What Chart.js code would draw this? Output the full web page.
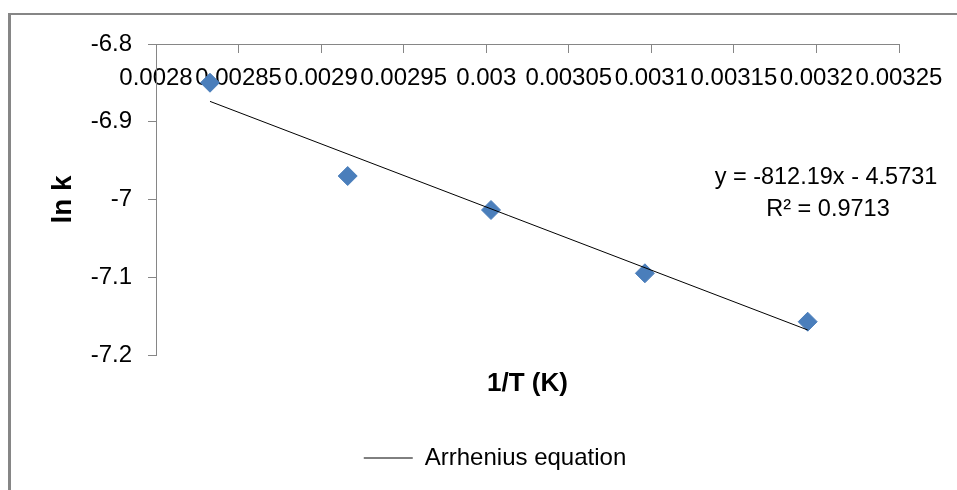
<!DOCTYPE html>
<html>
<head>
<meta charset="UTF-8">
<title>Arrhenius plot</title>
<script src="https://cdn.jsdelivr.net/npm/chart.js"></script>
<style>
  body { margin: 0; background: #fff; }
  canvas { display: block; }
</style>
</head>
<body>
<canvas id="arrhenius" width="957" height="490"></canvas>
<script>
// data
const invT = [0.0028327, 0.0029161, 0.0030029, 0.0030961, 0.0031947];
const lnK = [-6.8498, -6.9698, -7.0135, -7.0949, -7.1572];

// trendline end points (y = -812.19x - 4.5731)
const fitX = [0.0028327, 0.0031947];
const fitY = [-6.8738, -7.1678];

const xTicks = [0.0028, 0.00285, 0.0029, 0.00295, 0.003, 0.00305, 0.0031, 0.00315, 0.0032, 0.00325];
const xTickLabels = ['0.0028', '0.00285', '0.0029', '0.00295', '0.003', '0.00305', '0.0031', '0.00315', '0.0032', '0.00325'];
const yTicks = [-7.2, -7.1, -7, -6.9, -6.8];
const yTickLabels = ['-7.2', '-7.1', '-7', '-6.9', '-6.8'];

const trendLabel = 'Arrhenius equation';
const equationLines = ['y = -812.19x - 4.5731', 'R\u00B2 = 0.9713'];

const FONT = "'Liberation Sans', Arial, sans-serif";
const AXIS_GRAY = '#868686';

Chart.defaults.font.family = FONT;
Chart.defaults.color = '#000';

// frame round the chart + trendline label
const excelBits = {
  id: 'excelBits',
  beforeDraw(chart) {
    const ctx = chart.ctx;
    ctx.save();
    ctx.strokeStyle = AXIS_GRAY;
    ctx.lineWidth = 3;
    ctx.beginPath();
    ctx.moveTo(9.5, 13);
    ctx.lineTo(9.5, chart.height);
    ctx.stroke();
    ctx.lineWidth = 2;
    ctx.beginPath();
    ctx.moveTo(8, 14);
    ctx.lineTo(chart.width, 14);
    ctx.stroke();
    ctx.restore();
  },
  afterDraw(chart) {
    const ctx = chart.ctx;
    const area = chart.chartArea;
    ctx.save();
    ctx.font = '23.5px ' + FONT;
    ctx.fillStyle = '#000';
    ctx.textAlign = 'center';
    ctx.textBaseline = 'middle';
    ctx.fillText(equationLines[0], area.right - 73, area.top + 134);
    ctx.fillText(equationLines[1], area.right - 71, area.top + 166);
    ctx.restore();
  }
};

new Chart(document.getElementById('arrhenius'), {
  type: 'scatter',
  data: {
    datasets: [
      {
        label: trendLabel,
        data: fitX.map((x, i) => ({ x: x, y: fitY[i] })),
        showLine: true,
        borderColor: '#000',
        borderWidth: 1,
        pointRadius: 0,
        pointStyle: 'line',
        order: 0
      },
      {
        label: 'ln k',
        data: invT.map((x, i) => ({ x: x, y: lnK[i] })),
        pointStyle: 'rectRot',
        pointRadius: 9.5,
        pointBackgroundColor: '#4a7ebb',
        pointBorderColor: '#4a7ebb',
        pointBorderWidth: 1,
        order: 1
      }
    ]
  },
  options: {
    responsive: false,
    animation: false,
    layout: { padding: { left: 33, top: 44, right: 0, bottom: 10 } },
    plugins: {
      tooltip: { enabled: false },
      legend: {
        position: 'bottom',
        labels: {
          filter: item => item.text === trendLabel,
          usePointStyle: true,
          pointStyleWidth: 49,
          font: { size: 24 },
          color: '#000'
        }
      }
    },
    scales: {
      x: {
        type: 'linear',
        position: { y: -6.8 },
        min: 0.0028,
        max: 0.00325,
        afterBuildTicks: s => { s.ticks = xTicks.map(v => ({ value: v })); },
        ticks: {
          autoSkip: false,
          maxRotation: 0,
          padding: 12,
          font: { size: 24 },
          color: '#000',
          callback: (v, i) => xTickLabels[i]
        },
        grid: { drawOnChartArea: false, tickLength: 8, color: AXIS_GRAY },
        border: { color: AXIS_GRAY, width: 1 }
      },
      y: {
        type: 'linear',
        position: 'left',
        min: -7.2,
        max: -6.8,
        afterBuildTicks: s => { s.ticks = yTicks.map(v => ({ value: v })); },
        afterFit: s => { s.width = 123; },
        ticks: {
          padding: 16,
          font: { size: 24 },
          color: '#000',
          callback: (v, i) => yTickLabels[i]
        },
        title: {
          display: true,
          text: 'ln k',
          font: { size: 28, weight: 'bold' },
          color: '#000',
          padding: { top: 13, bottom: 0 }
        },
        grid: { drawOnChartArea: false, tickLength: 8, color: AXIS_GRAY },
        border: { color: AXIS_GRAY, width: 1 }
      },
      // empty axes that only hold the x title and the right margin
      x2: {
        type: 'linear',
        position: 'bottom',
        afterFit: s => { s.height = 81; },
        ticks: { display: false },
        grid: { display: false, drawTicks: false },
        border: { display: false },
        title: {
          display: true,
          text: '1/T (K)',
          font: { size: 26, weight: 'bold' },
          color: '#000',
          padding: { top: 0, bottom: 37 }
        }
      },
      y2: {
        type: 'linear',
        position: 'right',
        afterFit: s => { s.width = 58; },
        ticks: { display: false },
        grid: { display: false, drawTicks: false },
        border: { display: false }
      }
    }
  },
  plugins: [excelBits]
});
</script>
</body>
</html>
